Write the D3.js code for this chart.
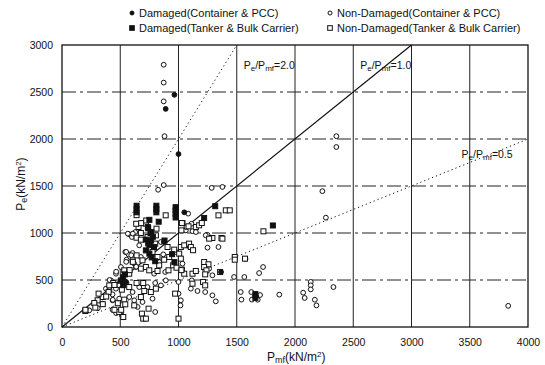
<!DOCTYPE html>
<html>
<head>
<meta charset="utf-8">
<script src="https://cdn.jsdelivr.net/npm/d3@7"></script>
<style>
body{margin:0;background:#fff;}
svg{font-family:"Liberation Sans",Arial,sans-serif;}
.tick text{font-size:10.5px;fill:#111;}
</style>
</head>
<body>
<div id="canvas" class="canvas" style="width:545px;height:365px"></div>
<script>
// x = Pmf, y = Pe  (kN/m2)
var damagedContainer = [[965,2470],[890,2320],[1000,1840],[1050,1220],[875,905],[1365,585],[550,480],[1665,330]];

var damagedTanker = [[640,1290],[640,1255],[640,1220],[810,1290],[810,1255],[810,1220],
    [975,1275],[975,1240],[975,1205],[975,1165],[830,1120],[750,1140],[1220,1160],[1315,1285],
    [1810,1080],[720,815],[750,780],[765,920],[750,870],[880,920],[945,775],[965,690],
    [740,1050],[760,1000],[780,960],[790,850],[770,740],[800,700],[720,930],[740,890],
    [525,530],[505,495],[525,445],[540,560],[1660,350],[1660,310],[737,1063],[766,1010]];

var nonDamagedContainer = [[873,2790],[873,2600],[873,2400],[880,2030],[873,1510],[825,1460],
    [2355,2030],[2355,1915],[1285,1480],[1377,1490],[2235,1445],[2265,1163],
    [1083,1206],[1120,1020],[1249,980],[1343,851],[1249,844],
    [1575,725],[1726,638],[1692,574],[1565,532],[1625,372],[1630,291],[1680,290],[1700,340],
    [1865,344],[2070,365],[2083,309],[2135,480],[2135,443],[2135,400],[2170,290],[2184,230],[2330,425],[3830,225],
    [1063,1028],[1149,1010],[577,986],[628,1010],[600,957],[849,904],[1234,975],[663,869],
    [543,798],[571,773],[606,787],[677,745],[869,773],[977,798],[554,716],[620,674],[834,691],[1034,674],
    [506,638],[634,638],[791,567],[886,585],[1263,621],[1291,550],[1477,532],[463,567],[420,496],
    [377,408],[434,347],[463,408],[491,443],[554,468],[606,372],[663,425],[734,425],[800,468],[849,443],
    [891,496],[1000,479],[1000,355],[1020,284],[1114,496],[1106,408],[1163,383],[1229,372],[1291,337],
    [1320,273],[1534,372],[1540,291],[577,319],[491,301],[434,284],[349,248],
    [234,177],[434,184],[514,124],[649,213],[691,266],[800,160],[1017,230],[620,284],[777,301],
    [278,253],[307,200],[465,148],[522,113],[565,993],[608,993],[551,799],[594,764],[551,693],[637,641],
    [465,588],[408,500],[408,394],[436,289],[1068,1063],[1111,1098],[1096,852]];

var nonDamagedTanker = [[640,1190],[890,1188],[1343,1188],[1406,1241],[1440,1241],[1729,1018],
    [1034,1106],[1086,1071],[1149,1064],[1177,1082],[1200,1106],[1291,947],[1369,947],[1571,727],[1357,585],
    [697,1106],[720,1100],[811,1046],[657,1064],[1029,1106],[677,1000],
    [640,950],[677,929],[734,957],[806,975],[800,887],[906,851],[963,823],[1020,851],[1049,869],[1091,887],
    [1106,851],[1263,940],[1377,940],
    [640,762],[777,798],[820,745],[920,745],[1006,780],[1020,727],[606,709],[691,709],[877,716],[1220,691],
    [1257,667],[1483,745],[1483,716],
    [534,603],[577,567],[677,621],[720,638],[749,603],[834,656],[820,596],[914,603],[954,656],[983,631],
    [1029,610],[1049,567],[1120,567],[1149,596],[1220,638],[1240,603],[1229,560],[440,468],
    [406,443],[400,372],[514,397],[577,425],[640,468],[697,468],[706,383],[763,372],[806,408],[971,355],
    [1120,461],[1211,479],[1229,443],[534,291],[349,319],[314,355],[306,284],
    [277,255],[200,170],[286,206],[491,160],[526,106],[543,241],[620,230],[686,142],[697,89],[720,89],
    [743,195],[1000,89],[677,319],[201,183],[350,243],[450,183],[508,183],[637,1098],[680,1105],[723,1133],
    [608,693],[580,605],[450,447],[379,324],[479,253],[1025,1028],[1125,817],[1025,605]];

var xTicks = [0,500,1000,1500,2000,2500,3000,3500,4000];
var yTicks = [0,500,1000,1500,2000,2500,3000];

// ratio lines: Pe/Pmf = r, drawn from the origin to the frame
var ratioLines = [
    {r:1.0, end:[3000,3000], dash:null},
    {r:2.0, end:[1500,3000], dash:'1.2,3'},
    {r:0.5, end:[4000,2000], dash:'1.2,3'}
];
var ratioLabels = [
    {r:'2.0', at:[1560,2750]},
    {r:'1.0', at:[2560,2750]},
    {r:'0.5', at:[3430,1800]}
];

var m = {t:45,r:17,b:38,l:62},
    w = 545 - m.l - m.r,
    h = 365 - m.t - m.b;

var svg = d3.select('.canvas')
    .append('svg')
    .attr('width', 545)
    .attr('height', 365);

var plot = svg.append('g').attr('class','plot')
    .attr('transform','translate('+ m.l+','+ m.t+')');

var x = d3.scaleLinear().domain([0,4000]).range([0,w]);
var y = d3.scaleLinear().domain([0,3000]).range([h,0]);

//grid
plot.selectAll('.hgrid')
    .data(yTicks.slice(1,-1))
    .enter().append('line').attr('class','hgrid')
    .attr('x1',0).attr('x2',w)
    .attr('y1',function(d){return y(d)}).attr('y2',function(d){return y(d)})
    .style('stroke','#222').style('stroke-width',1)
    .style('stroke-dasharray','14,4,3,4');
plot.selectAll('.vgrid')
    .data(xTicks.slice(1,-1))
    .enter().append('line').attr('class','vgrid')
    .attr('y1',0).attr('y2',h)
    .attr('x1',function(d){return x(d)}).attr('x2',function(d){return x(d)})
    .style('stroke','#222').style('stroke-width',1);

//axes
var xAxis = plot.append('g')
    .attr('transform','translate(0,'+h+')')
    .call(d3.axisBottom(x).tickValues(xTicks).tickFormat(d3.format('d')).tickSize(0).tickPadding(12));
var yAxis = plot.append('g')
    .call(d3.axisLeft(y).tickValues(yTicks).tickFormat(d3.format('d')).tickSize(0).tickPadding(9));
xAxis.select('.domain').remove();
yAxis.select('.domain').remove();

plot.append('rect')
    .attr('width',w).attr('height',h)
    .style('fill','none').style('stroke','#111').style('stroke-width',1.3);

//ratio lines
plot.selectAll('.ratio')
    .data(ratioLines)
    .enter().append('line').attr('class','ratio')
    .attr('x1',x(0)).attr('y1',y(0))
    .attr('x2',function(d){return x(d.end[0])})
    .attr('y2',function(d){return y(d.end[1])})
    .style('stroke','#111')
    .style('stroke-width',function(d){return d.dash ? 1 : 1.2})
    .style('stroke-dasharray',function(d){return d.dash});

var lab = plot.selectAll('.rlabel')
    .data(ratioLabels)
    .enter().append('text').attr('class','rlabel')
    .attr('x',function(d){return x(d.at[0])})
    .attr('y',function(d){return y(d.at[1])})
    .style('font-size','10.5px').style('fill','#111');
lab.append('tspan').text('P');
lab.append('tspan').text('e').attr('dy',2).style('font-size','8px');
lab.append('tspan').text('/P').attr('dy',-2);
lab.append('tspan').text('mf').attr('dy',2).style('font-size','8px');
lab.append('tspan').text(function(d){return '='+d.r}).attr('dy',-2);

//points
function circles(data, filled){
    plot.append('g').selectAll('circle')
        .data(data)
        .enter().append('circle')
        .attr('cx',function(d){return x(d[0])})
        .attr('cy',function(d){return y(d[1])})
        .attr('r',2.4)
        .style('fill',filled ? '#111' : '#fff')
        .style('stroke','#111').style('stroke-width',1);
}
function squares(data, filled){
    plot.append('g').selectAll('rect')
        .data(data)
        .enter().append('rect')
        .attr('x',function(d){return x(d[0])-2.5})
        .attr('y',function(d){return y(d[1])-2.5})
        .attr('width',5).attr('height',5)
        .style('fill',filled ? '#111' : '#fff')
        .style('stroke','#111').style('stroke-width',1);
}
circles(nonDamagedContainer,false);
squares(nonDamagedTanker,false);
squares(damagedTanker,true);
circles(damagedContainer,true);

//legend
var legendItems = [
    {name:'Damaged(Container & PCC)', shape:'circle', filled:true, lx:132, ly:13},
    {name:'Damaged(Tanker & Bulk Carrier)', shape:'square', filled:true, lx:132, ly:28},
    {name:'Non-Damaged(Container & PCC)', shape:'circle', filled:false, lx:330, ly:13},
    {name:'Non-Damaged(Tanker & Bulk Carrier)', shape:'square', filled:false, lx:330, ly:28}
];
var leg = svg.selectAll('.legend')
    .data(legendItems)
    .enter().append('g').attr('class','legend')
    .attr('transform',function(d){return 'translate('+d.lx+','+d.ly+')'});
leg.filter(function(d){return d.shape=='circle'})
    .append('circle').attr('r',2)
    .style('fill',function(d){return d.filled?'#111':'#fff'})
    .style('stroke','#111');
leg.filter(function(d){return d.shape=='square'})
    .append('rect').attr('x',-2.3).attr('y',-2.3).attr('width',4.6).attr('height',4.6)
    .style('fill',function(d){return d.filled?'#111':'#fff'})
    .style('stroke','#111');
leg.append('text').attr('x',7).attr('y',4)
    .style('font-size','11px').style('fill','#111')
    .text(function(d){return d.name});

//axis titles
var xt = svg.append('text')
    .attr('x',m.l + x(2000) - 28).attr('y',361)
    .style('font-size','12px').style('fill','#111');
xt.append('tspan').text('P');
xt.append('tspan').text('mf').attr('dy',2).style('font-size','9px');
xt.append('tspan').text('(kN/m').attr('dy',-2);
xt.append('tspan').text('2').attr('dy',-4).style('font-size','8px');
xt.append('tspan').text(')').attr('dy',4);

var yt = svg.append('text')
    .attr('transform','translate(25,'+(m.t+y(1520))+') rotate(-90)')
    .attr('text-anchor','middle')
    .style('font-size','12px').style('fill','#111');
yt.append('tspan').text('P');
yt.append('tspan').text('e').attr('dy',2).style('font-size','9px');
yt.append('tspan').text('(kN/m').attr('dy',-2);
yt.append('tspan').text('2').attr('dy',-4).style('font-size','8px');
yt.append('tspan').text(')').attr('dy',4);
</script>
</body>
</html>
